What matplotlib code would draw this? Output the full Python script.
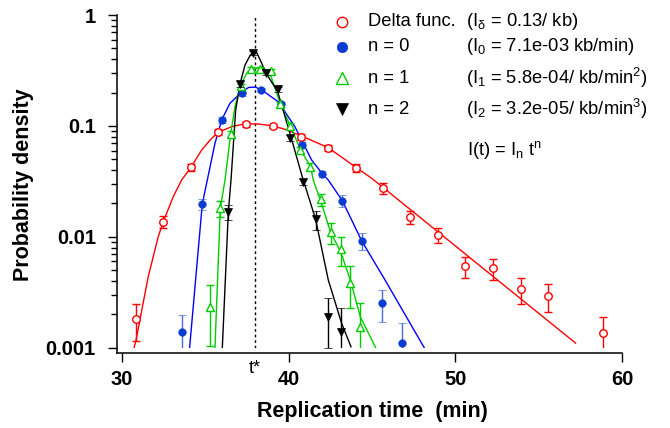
import matplotlib
matplotlib.use('Agg')
import matplotlib.pyplot as plt
from matplotlib.lines import Line2D
from matplotlib.ticker import LogLocator, NullFormatter, FixedLocator

plt.rcParams['font.family'] = ['Liberation Sans', 'DejaVu Sans']
plt.rcParams['mathtext.fontset'] = 'custom'
plt.rcParams['mathtext.rm'] = 'Liberation Sans'
plt.rcParams['mathtext.it'] = 'Liberation Sans:italic'
plt.rcParams['mathtext.bf'] = 'Liberation Sans:bold'
plt.rcParams['mathtext.default'] = 'regular'

# ---------------- data ----------------
# Delta function nucleation (red open circles)
delta_t = [30.84, 32.46, 34.15, 35.79, 37.42, 39.05, 40.72, 42.39, 44.04, 45.67,
           47.29, 48.93, 50.59, 52.25, 53.91, 55.56, 58.86]
delta_p = [0.00182, 0.01368, 0.0423, 0.0876, 0.103, 0.0998, 0.0799, 0.0632, 0.0417,
           0.0274, 0.01509, 0.01038, 0.00545, 0.0052, 0.00338, 0.00294, 0.00136]
delta_err = [0.00066, 0.0017, 0.003, 0.0056, 0.0055, 0.005, 0.0051, 0.004, 0.0035,
             0.003, 0.002, 0.0016, 0.00117, 0.00115, 0.0009, 0.00084, 0.00054]

# n = 0 (blue filled circles)
n0_t = [33.63, 34.83, 35.99, 37.19, 38.36, 39.54, 40.82, 42.0, 43.22, 44.38, 45.58, 46.78]
n0_p = [0.00138, 0.01976, 0.113, 0.1968, 0.2108, 0.1576, 0.0673, 0.0368, 0.02116,
        0.00917, 0.00251, 0.00111]
n0_err = [0.0006, 0.0022, 0.007, 0.010, 0.0088, 0.008, 0.0042, 0.0023, 0.0025,
          0.0016, 0.0008, 0.00055]

# n = 1 (green open triangles)
n1_t = [35.29, 35.91, 36.53, 37.12, 37.77, 38.30, 38.93, 39.51, 40.10, 40.70, 41.31,
        41.92, 42.52, 43.12, 43.70, 44.31]
n1_p = [0.00234, 0.0181, 0.0845, 0.229, 0.326, 0.326, 0.311, 0.156, 0.0998, 0.061,
        0.0429, 0.0217, 0.01098, 0.00771, 0.00386, 0.00155]
n1_err = [0.0013, 0.003, 0.005, 0.012, 0.012, 0.012, 0.012, 0.008, 0.006, 0.004,
          0.003, 0.0026, 0.0024, 0.0023, 0.0016, 0.001]

# n = 2 (black filled down-triangles)
n2_t = [36.39, 37.09, 37.89, 38.63, 39.35, 40.08, 40.85, 41.62, 42.38, 43.12]
n2_p = [0.0167, 0.239, 0.4515, 0.302, 0.2138, 0.0783, 0.0312, 0.01438, 0.0019, 0.00139]
n2_err = [0.0026, 0.015, 0.02, 0.015, 0.012, 0.005, 0.002, 0.0028, 0.0009, 0.00087]

# fitted curves
fit_delta_t = [30.74, 30.86, 31.59, 32.19, 32.49, 33.09, 33.59, 34.15, 34.79, 35.39,
               35.79, 36.59, 37.4, 38.2, 39.08, 39.78, 40.78, 42.38, 43.98, 44.98, 57.2]
fit_delta_p = [0.001, 0.00117, 0.00437, 0.01002, 0.01368, 0.023, 0.0325, 0.0423, 0.0606,
               0.0773, 0.0876, 0.0984, 0.1045, 0.104, 0.0998, 0.0932, 0.0811, 0.0636,
               0.0429, 0.0337, 0.0011]

fit_n0_t = [34.07, 34.83, 35.13, 35.59, 35.99, 36.49, 37.19, 37.6, 38.0, 38.39, 39.38,
            40.38, 41.38, 42.04, 42.38, 43.22, 44.38, 45.78, 48.13]
fit_n0_p = [0.001, 0.01976, 0.0325, 0.0697, 0.113, 0.160, 0.202, 0.222, 0.224, 0.2108,
            0.1652, 0.0984, 0.0493, 0.0368, 0.0325, 0.0212, 0.0092, 0.00408, 0.001]

fit_n1_t = [35.59, 35.91, 36.19, 36.53, 36.79, 37.09, 37.49, 37.79, 38.2, 38.59, 38.89,
            39.49, 40.13, 40.72, 41.32, 41.48, 41.92, 42.52, 43.12, 43.70, 44.30, 45.22]
fit_n1_p = [0.001, 0.0181, 0.0325, 0.0845, 0.149, 0.2257, 0.298, 0.324, 0.332, 0.324,
            0.298, 0.160, 0.0984, 0.0606, 0.0429, 0.0325, 0.0212, 0.01098, 0.00734,
            0.00408, 0.0019, 0.001]

fit_n2_t = [36.03, 36.39, 36.55, 36.83, 37.09, 37.39, 37.69, 37.89, 38.1, 38.39, 38.63,
            39.35, 40.08, 40.82, 41.62, 42.38, 43.18, 43.74]
fit_n2_p = [0.001, 0.0167, 0.0325, 0.139, 0.239, 0.354, 0.43, 0.463, 0.455, 0.367,
            0.302, 0.2034, 0.0858, 0.0348, 0.0144, 0.00408, 0.00166, 0.00102]

t_star = 38.0

xticks = [30, 40, 50, 60]
xtick_labels = ['30', '40', '50', '60']
yticks = [0.001, 0.01, 0.1, 1]
ytick_labels = ['0.001', '0.01', '0.1', '1']

legend_names = ['Delta func.', 'n = 0', 'n = 1', 'n = 2']
legend_params = ['(I$_{\\mathrm{\u03b4}}$ = 0.13/ kb)',
                 '(I$_0$ = 7.1e-03 kb/min)',
                 '(I$_1$ = 5.8e-04/ kb/min$^2$)',
                 '(I$_2$ = 3.2e-05/ kb/min$^3$)']

# ---------------- styles ----------------
RED = '#ff0000'
BLUE_PT = '#0a3cd2'
BLUE_ERR = '#4a6ed8'
BLUE_LINE = '#0000ff'
GREEN = '#00cc00'
BLACK = '#000000'

W, H = 670, 428
fig = plt.figure(figsize=(W / 100, H / 100), dpi=100)
ax = fig.add_axes([121.7 / W, 1 - 347.7 / H, 500.6 / W, 332.7 / H])
ax.set_yscale('log')
ax.set_xlim(30, 60)
ax.set_ylim(0.001, 1)

# t* dotted line
ax.plot([t_star, t_star], [0.001, 1], color='black', lw=1.0,
        linestyle=(0, (2, 2)), zorder=1)

# fit lines
ax.plot(fit_delta_t, fit_delta_p, color=RED, lw=1.0, zorder=2)
ax.plot(fit_n0_t, fit_n0_p, color=BLUE_LINE, lw=1.0, zorder=2)
ax.plot(fit_n1_t, fit_n1_p, color=GREEN, lw=1.0, zorder=2)
ax.plot(fit_n2_t, fit_n2_p, color=BLACK, lw=1.0, zorder=2)

cap = 2.8
ax.errorbar(delta_t, delta_p, yerr=delta_err, fmt='o', ms=5.4, mfc='white', mec=RED,
            mew=1.0, ecolor=RED, elinewidth=1.0, capsize=cap, capthick=1.0, zorder=3)
ax.errorbar(n0_t, n0_p, yerr=n0_err, fmt='o', ms=5.4, mfc=BLUE_PT, mec=BLUE_PT,
            mew=0.5, ecolor=BLUE_ERR, elinewidth=1.0, capsize=cap, capthick=1.0, zorder=3)
ax.errorbar(n1_t, n1_p, yerr=n1_err, fmt='^', ms=6.2, mfc='white', mec=GREEN,
            mew=1.0, ecolor=GREEN, elinewidth=1.0, capsize=cap, capthick=1.0, zorder=3)
ax.errorbar(n2_t, n2_p, yerr=n2_err, fmt='v', ms=6.4, mfc=BLACK, mec=BLACK,
            mew=0.5, ecolor=BLACK, elinewidth=1.0, capsize=cap, capthick=1.0, zorder=4)

# axes styling (Igor-like offset axes)
for s in ['top', 'right']:
    ax.spines[s].set_visible(False)
for s in ['left', 'bottom']:
    ax.spines[s].set_position(('outward', 3.6))
    ax.spines[s].set_linewidth(1.1)
ax.spines['bottom'].set_bounds(29.70, 60)
ax.spines['left'].set_bounds(0.000901, 1)

ax.xaxis.set_major_locator(FixedLocator(xticks))
ax.set_xticklabels(xtick_labels, fontweight='bold', fontsize=14.5)
ax.yaxis.set_major_locator(FixedLocator(yticks))
ax.set_yticklabels(ytick_labels, fontweight='bold', fontsize=14.5)
ax.yaxis.set_minor_locator(LogLocator(base=10, subs=range(2, 10)))
ax.yaxis.set_minor_formatter(NullFormatter())
ax.tick_params(axis='both', which='major', direction='out', length=6.5, width=1.0)
ax.tick_params(axis='y', which='major', pad=8.5)
ax.tick_params(axis='x', which='major', pad=6)
ax.tick_params(axis='y', which='minor', direction='out', length=4, width=1.0)
ax.tick_params(axis='x', which='minor', length=0)

# t* label
ax.text(t_star, -0.038, 't*', transform=ax.get_xaxis_transform(), ha='center', va='top',
        fontsize=13)

# axis labels
fig.text(372 / W, 1 - 411 / H, 'Replication time  (min)', ha='center', va='center',
         fontsize=15.5, fontweight='bold')
fig.text(24 / W, 1 - 185 / H, 'Probability density', ha='center', va='center',
         rotation=90, fontsize=15.5, fontweight='bold')

# manual legend
rows_y = [21.7, 46.7, 78.3, 109.3]
leg_styles = [dict(marker='o', mfc='white', mec=RED, ms=7.5, mew=1.0),
              dict(marker='o', mfc=BLUE_PT, mec=BLUE_PT, ms=7.5, mew=0.5),
              dict(marker='^', mfc='white', mec=GREEN, ms=8, mew=1.0),
              dict(marker='v', mfc=BLACK, mec=BLACK, ms=8.5, mew=0.5)]
for name, par, yy, st in zip(legend_names, legend_params, rows_y, leg_styles):
    fig.add_artist(Line2D([342 / W], [1 - yy / H], transform=fig.transFigure,
                          linestyle='none', **st))
    fig.text(368 / W, 1 - yy / H, name, ha='left', va='center', fontsize=13.2)
    fig.text(465.5 / W, 1 - yy / H, par, ha='left', va='center', fontsize=13.2)

fig.text(467 / W, 1 - 150 / H, 'I(t) = I$_n$ t$^n$', ha='left', va='center', fontsize=13.2)

fig.savefig('out.png', dpi=100)
